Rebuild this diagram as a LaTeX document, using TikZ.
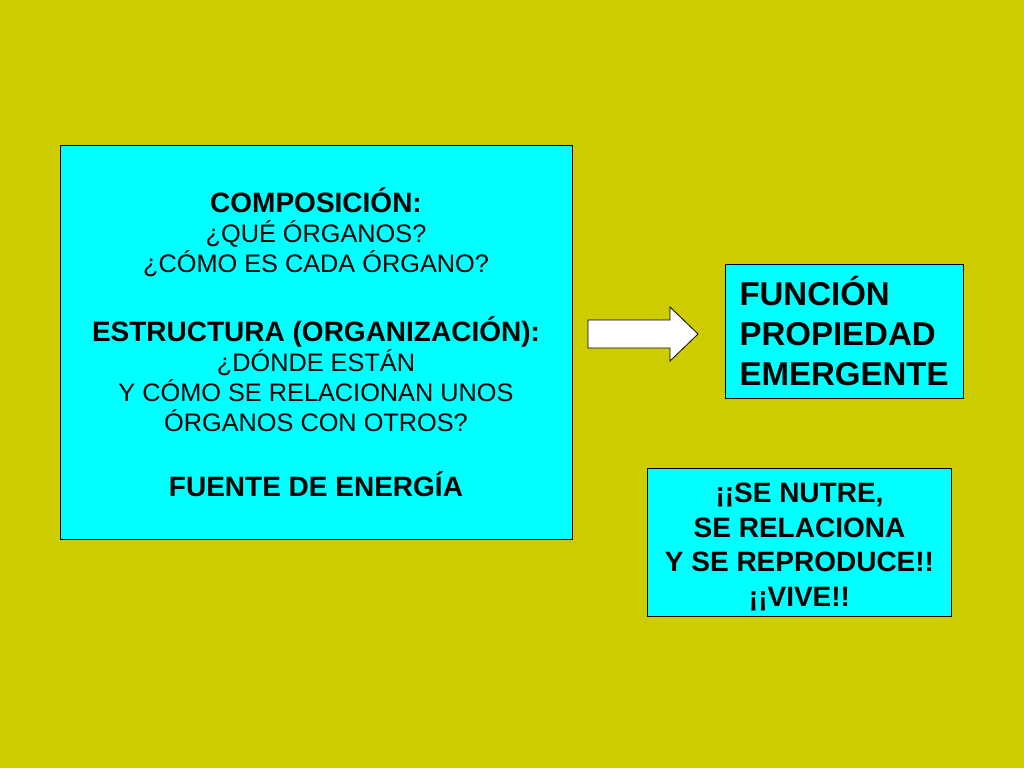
\documentclass[tikz,border=0pt]{standalone}
\usepackage{fontspec}
\setmainfont{Liberation Sans}
\usetikzlibrary{positioning}
\definecolor{fondo}{RGB}{204,204,0}
\definecolor{celeste}{RGB}{0,255,255}

\begin{document}
\begin{tikzpicture}[x=1pt,y=-1pt,
		caja/.style={draw=black,fill=celeste,line width=0.8pt,inner sep=0pt}]
	\fill[fondo] (0,0) rectangle (1024,768);
	\useasboundingbox (0,0) rectangle (1024,768);
	% caja grande de la izquierda
	\node[caja,minimum width=512pt,minimum height=394pt,align=center,
		font=\fontsize{25.3}{30}\selectfont] (organos) at (316,342)
		{{\bfseries\fontsize{28}{30}\selectfont COMPOSICIÓN:}\\
		¿QUÉ ÓRGANOS?\\
		¿CÓMO ES CADA ÓRGANO?\\[39pt]
		{\bfseries\fontsize{28}{30}\selectfont ESTRUCTURA (ORGANIZACIÓN):}\\
		¿DÓNDE ESTÁN\\
		Y CÓMO SE RELACIONAN UNOS\\
		ÓRGANOS CON OTROS?\\[35pt]
		{\bfseries\fontsize{28}{30}\selectfont FUENTE DE ENERGÍA}};
	% flecha
	\draw[fill=white,line width=0.8pt] (588,320) -- (670,320) -- (670,307) -- (698,334)
		-- (670,361) -- (670,348) -- (588,348) -- cycle;
	\node[caja,minimum width=238pt,minimum height=134pt,align=left,
		font=\bfseries\fontsize{33}{40}\selectfont] (funcion) at (844,331)
		{FUNCIÓN\\PROPIEDAD\\EMERGENTE};
	\node[caja,minimum width=304pt,minimum height=148pt,align=center,
		font=\bfseries\fontsize{28}{34.5}\selectfont] (vive) at (799.5,542.5)
		{\rule{0pt}{28pt}¡¡SE NUTRE,\\SE RELACIONA\\Y SE REPRODUCE!!\\¡¡VIVE!!};
\end{tikzpicture}
\end{document}
